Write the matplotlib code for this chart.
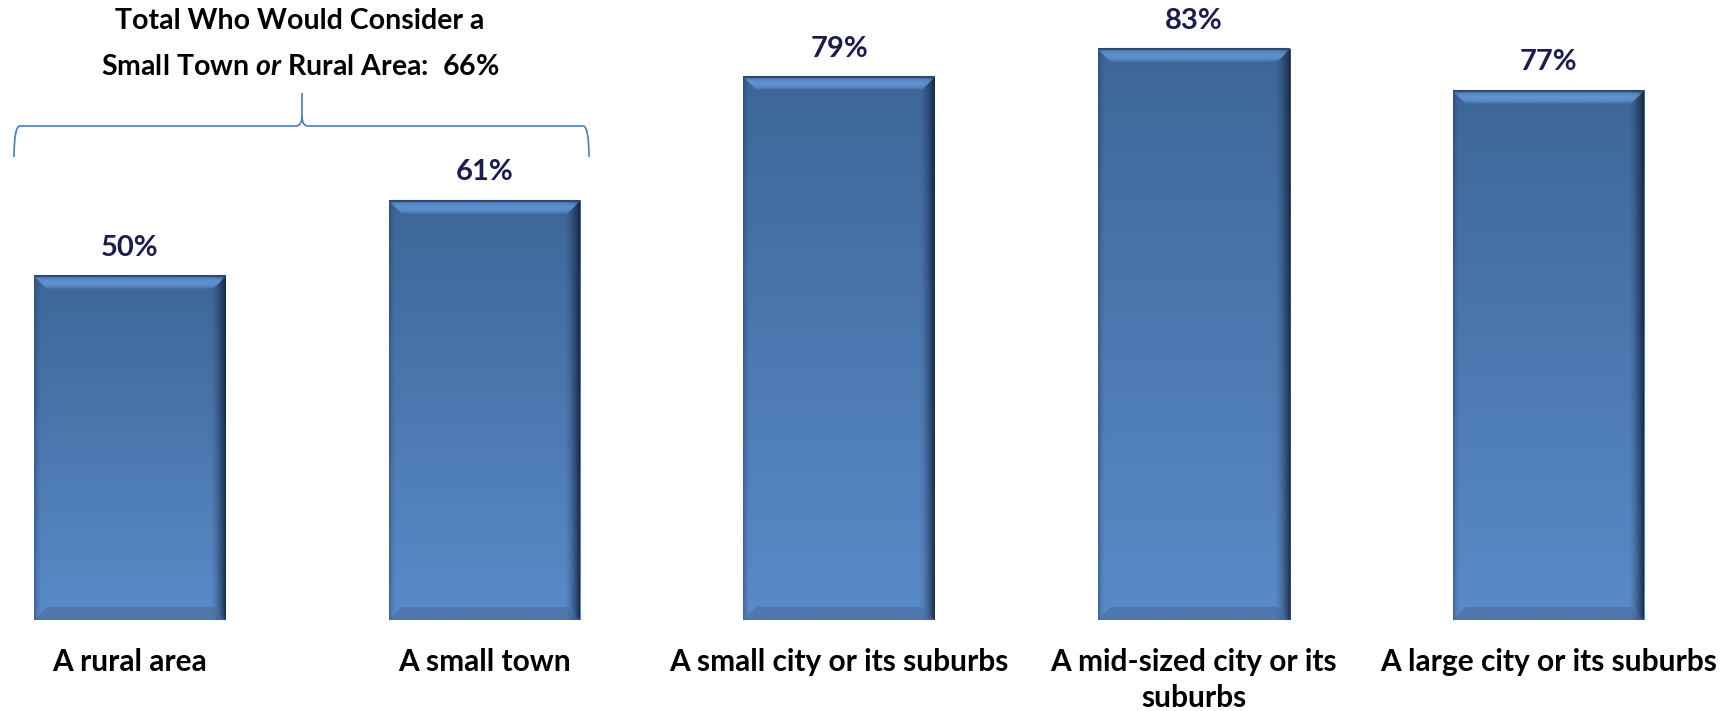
import numpy as np
import matplotlib
matplotlib.use("Agg")
import matplotlib.pyplot as plt
from matplotlib.patches import Polygon, PathPatch
from matplotlib.path import Path
from matplotlib.colors import to_rgb

# ---- data ----
categories = ["A rural area", "A small town", "A small city or its suburbs",
              "A mid-sized city or its\nsuburbs", "A large city or its suburbs"]
values = [50, 61, 79, 83, 77]
value_labels = ["50%", "61%", "79%", "83%", "77%"]
title_line1 = "Total Who Would Consider a"
title_line2 = r"Small Town $\it{or}$ Rural Area:  66%"

plt.rcParams['font.family'] = ['Lato', 'DejaVu Sans']
plt.rcParams['mathtext.fontset'] = 'custom'
plt.rcParams['mathtext.rm'] = 'Lato:bold'
plt.rcParams['mathtext.it'] = 'Lato:italic:bold'
plt.rcParams['mathtext.bf'] = 'Lato:bold'

W, H = 1727, 711
fig = plt.figure(figsize=(W / 100, H / 100), dpi=100)
base_px = 620          # pixel row of the baseline (from top)
ppu_y = 6.875          # pixels per percent
ppu_x = 354.6          # pixels per category
x0_px = 130            # pixel column of the first category
ax = fig.add_axes([0, (H - base_px) / H, 1, base_px / H])
ax.set_xlim(-x0_px / ppu_x, (W - x0_px) / ppu_x)
ax.set_ylim(0, base_px / ppu_y)
ax.axis('off')

x = np.arange(len(categories))
bars = ax.bar(x, values, width=0.54, color='#4A78B2', zorder=1)

top_c = np.array(to_rgb('#3E6698'))
bot_c = np.array(to_rgb('#5A8BC9'))
grad = np.linspace(0, 1, 256)[:, None, None]
vert = bot_c * (1 - grad) + top_c * grad   # origin lower: row0 bottom

bx = 13 / ppu_x
by = 13 / ppu_y
for r in bars:
    xl, w, h = r.get_x(), r.get_width(), r.get_height()
    xr = xl + w
    ax.imshow(vert, extent=(xl, xr, 0, h), origin='lower', aspect='auto',
              interpolation='bilinear', zorder=2)
    # right shadow
    n = 64
    sh = np.zeros((1, n, 4))
    sh[..., :3] = to_rgb('#0E1C33')
    sh[0, :, 3] = np.linspace(0, 1, n) ** 1.6 * 0.85
    sw = 16 / ppu_x
    ax.imshow(sh, extent=(xr - sw, xr, 0, h), origin='lower', aspect='auto',
              interpolation='bilinear', zorder=3)
    # left subtle shade
    lsh = np.zeros((1, n, 4))
    lsh[..., :3] = to_rgb('#1E3558')
    lsh[0, :, 3] = np.linspace(1, 0, n) ** 2 * 0.45
    ax.imshow(lsh, extent=(xl, xl + 8 / ppu_x, 0, h), origin='lower', aspect='auto',
              interpolation='bilinear', zorder=3)
    # top bevel (light band, darker outer edge)
    tb = np.zeros((64, 1, 4))
    tb[..., :3] = to_rgb('#6194D2')
    t = np.linspace(0, 1, 64)
    tb[:, 0, 3] = 0.95 * np.sin(np.pi * t) ** 0.6
    poly = Polygon([(xl, h), (xr, h), (xr - bx, h - by), (xl + bx, h - by)],
                   closed=True, facecolor='none', edgecolor='none', zorder=4)
    ax.add_patch(poly)
    im = ax.imshow(tb, extent=(xl, xr, h - by, h), origin='lower', aspect='auto',
                   interpolation='bilinear', zorder=4)
    im.set_clip_path(poly)
    ax.plot([xl, xr], [h, h], color='#2E4A72', lw=1.5, zorder=5, solid_capstyle='butt')
    # bottom bevel
    ax.add_patch(Polygon([(xl, 0), (xr, 0), (xr - bx, by), (xl + bx, by)],
                         closed=True, facecolor='#46699A', edgecolor='none',
                         alpha=0.55, zorder=4))

# value labels
for xi, v, lab in zip(x, values, value_labels):
    ax.annotate(lab, (xi, v), xytext=(0, 14.5), textcoords='offset points',
                ha='center', va='baseline', fontsize=21, fontweight='bold',
                color='#1C1C4E', annotation_clip=False)

# category labels
for xi, c in zip(x, categories):
    ax.text(xi, -(648 - base_px) / ppu_y, c, ha='center', va='top',
            fontsize=21.5, fontweight='bold', color='black', linespacing=1.34,
            clip_on=False)

# title over the brace
tx = (300 - x0_px) / ppu_x
ax.text(tx, (base_px - 29) / ppu_y, title_line1, ha='center', va='baseline',
        fontsize=20.5, fontweight='bold', color='black', clip_on=False)
ax.text(tx, (base_px - 75) / ppu_y, title_line2, ha='center', va='baseline',
        fontsize=20.5, fontweight='bold', color='black', clip_on=False)

# curly brace spanning the first two categories
bl = (14 - x0_px) / ppu_x
br = (589 - x0_px) / ppu_x
bm = (302 - x0_px) / ppu_x
yl = (base_px - 126) / ppu_y
yb = (base_px - 157) / ppu_y
yt = (base_px - 93) / ppu_y
dxc = 6 / ppu_x
dyc = 10 / ppu_y
verts = [(bl, yb), (bl, yl), (bl + dxc, yl),
         (bm - dxc, yl), (bm, yl), (bm, yl + dyc),
         (bm, yt),
         (bm, yl + dyc), (bm, yl), (bm + dxc, yl),
         (br - dxc, yl), (br, yl), (br, yb)]
codes = [Path.MOVETO, Path.CURVE3, Path.CURVE3,
         Path.LINETO, Path.CURVE3, Path.CURVE3,
         Path.LINETO,
         Path.MOVETO, Path.CURVE3, Path.CURVE3,
         Path.LINETO, Path.CURVE3, Path.CURVE3]
ax.add_patch(PathPatch(Path(verts, codes), facecolor='none', edgecolor='#4A7EBB',
                       lw=1.2, clip_on=False, zorder=5))

fig.savefig("out.png", dpi=100, facecolor='white')
